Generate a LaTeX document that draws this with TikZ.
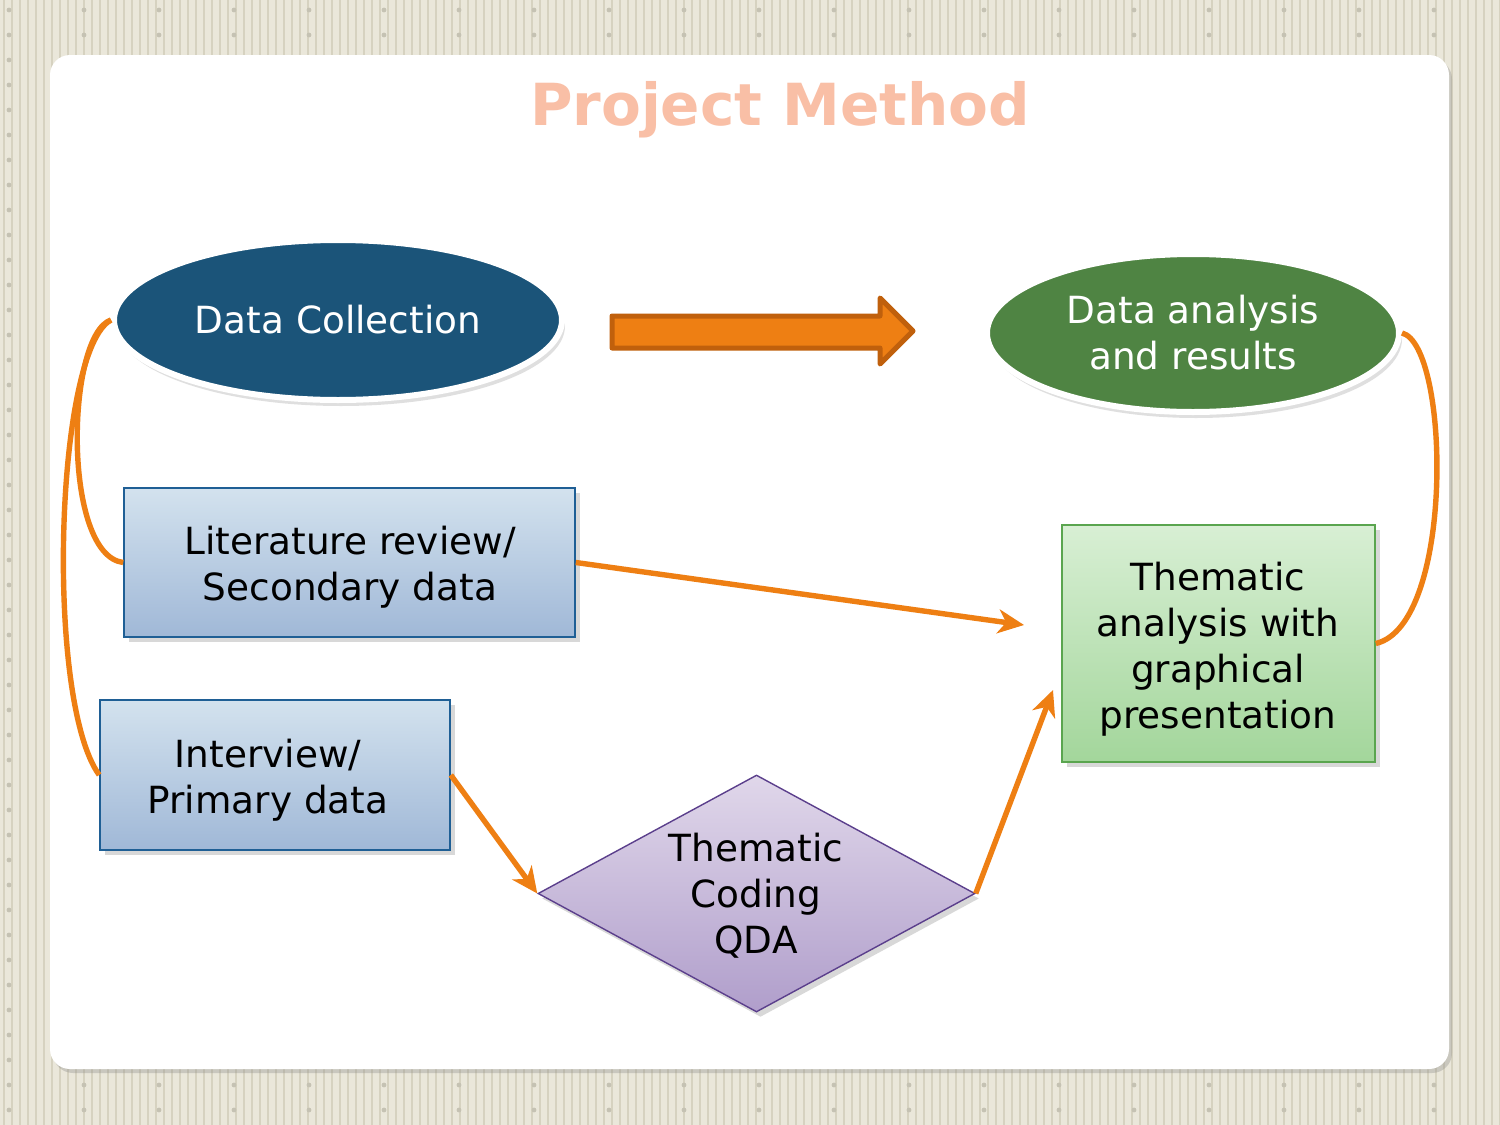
\documentclass[tikz,border=0pt]{standalone}
\usepackage{fontspec}
\setmainfont{DejaVu Sans}
\usetikzlibrary{shapes.geometric,arrows.meta,shadows}
\definecolor{bgc}{HTML}{EAE7DA}
\definecolor{stripec}{HTML}{D6D2C0}
\definecolor{titlec}{HTML}{F9BFA6}
\definecolor{dcfill}{HTML}{1B5479}
\definecolor{dafill}{HTML}{4F8443}
\definecolor{bluetop}{HTML}{D3E2EE}
\definecolor{bluebot}{HTML}{A0B8D7}
\definecolor{blueline}{HTML}{1F5F95}
\definecolor{greentop}{HTML}{D8EFD4}
\definecolor{greenbot}{HTML}{A3D69B}
\definecolor{greenline}{HTML}{5AA54F}
\definecolor{purptop}{HTML}{E0D7EA}
\definecolor{purpbot}{HTML}{B09ECB}
\definecolor{purpline}{HTML}{5B3F8C}
\definecolor{orangec}{HTML}{EE7F13}
\definecolor{orangedark}{HTML}{C0600C}
\tikzset{
  lbl/.style={font=\fontsize{18.7}{23}\selectfont, align=center},
  ellnode/.style={ellipse, draw=white, line width=3pt, text=white, lbl,
    drop shadow={shadow xshift=1.5pt, shadow yshift=-3pt, opacity=0.25}},
  bluebox/.style={rectangle, draw=blueline, line width=0.8pt, top color=bluetop, bottom color=bluebot,
    drop shadow={shadow xshift=2.5pt, shadow yshift=-2.5pt, opacity=0.3}},
  greenbox/.style={rectangle, draw=greenline, line width=0.8pt, top color=greentop, bottom color=greenbot,
    drop shadow={shadow xshift=2.5pt, shadow yshift=-2.5pt, opacity=0.3}},
  conn/.style={draw=orangec, line width=2.7pt},
  arr/.style={conn, -{Stealth[length=13pt, width=12pt, inset=4pt]}},
}
\begin{document}
\begin{tikzpicture}[x=0.5pt, y=-0.5pt]
\useasboundingbox (0,0) rectangle (1500,1125);
% background
\fill[bgc] (0,0) rectangle (1500,1125);
\foreach \x in {4,12,...,1500} {\draw[stripec, line width=0.8pt] (\x,0) -- (\x,1125);}
\foreach \x in {9,84,...,1500} {\foreach \y in {10,35,...,1125} {\fill[stripec!80!gray] (\x,\y) circle (1.2pt);}}
% panel
\node[rectangle, rounded corners=10pt, fill=white, minimum width=699.5pt, minimum height=507pt,
  drop shadow={shadow xshift=1.5pt, shadow yshift=-2pt, opacity=0.3}] (panel) at (749.5,562) {};
% title
\node[font=\fontsize{29}{34}\selectfont\bfseries, text=titlec] (title) at (780,110) {Project Method};
% ellipses
\node[ellnode, fill=dcfill, minimum width=224pt, minimum height=80pt] (dc) at (338,320) {Data Collection};
\node[ellnode, fill=dafill, minimum width=206pt, minimum height=79pt] (da) at (1193,333) {Data analysis\\and results};
% big arrow
\draw[fill=orangec, draw=orangedark, line width=2.5pt, line join=round]
  (612,316) -- (880,316) -- (880,298) -- (913,331) -- (880,364) -- (880,348) -- (612,348) -- cycle;
% boxes
\node[bluebox, minimum width=225.5pt, minimum height=74.5pt] (lit) at (349.5,562.5) {};
\node[lbl] (litt) at (350,567) {Literature review/\\Secondary data};
\node[bluebox, minimum width=175pt, minimum height=75pt] (int) at (275,775) {};
\node[lbl] (intt) at (268,780) {Interview/\\Primary data};
\node[greenbox, minimum width=156.5pt, minimum height=118.5pt] (them) at (1218.5,643.5) {};
\node[lbl] (themt) at (1218,649) {Thematic\\analysis with\\graphical\\presentation};
% diamond
\node[diamond, draw=purpline, line width=0.7pt, top color=purptop, bottom color=purpbot,
  minimum width=218.5pt, minimum height=118.5pt, inner sep=0pt,
  drop shadow={shadow xshift=2pt, shadow yshift=-2.5pt, opacity=0.3}] (dm) at (756.5,893.5) {};
\node[lbl] (dmt) at (756,896) {Thematic\\Coding\\QDA};
% connectors
\coordinate (litend) at (1024,625);
\coordinate (dmend) at (1053,690);
\draw[conn] (dc.west) .. controls (66,335) and (62,555) .. (lit.west);
\draw[conn] (dc.west) .. controls (55,350) and (45,700) .. (int.west);
\draw[conn] (da.east) .. controls (1450,345) and (1455,625) .. (them.east);
\draw[arr] (lit.east) -- (litend);
\draw[arr] (int.east) -- (dm.west);
\draw[arr] (dm.east) -- (dmend);
\end{tikzpicture}
\end{document}
